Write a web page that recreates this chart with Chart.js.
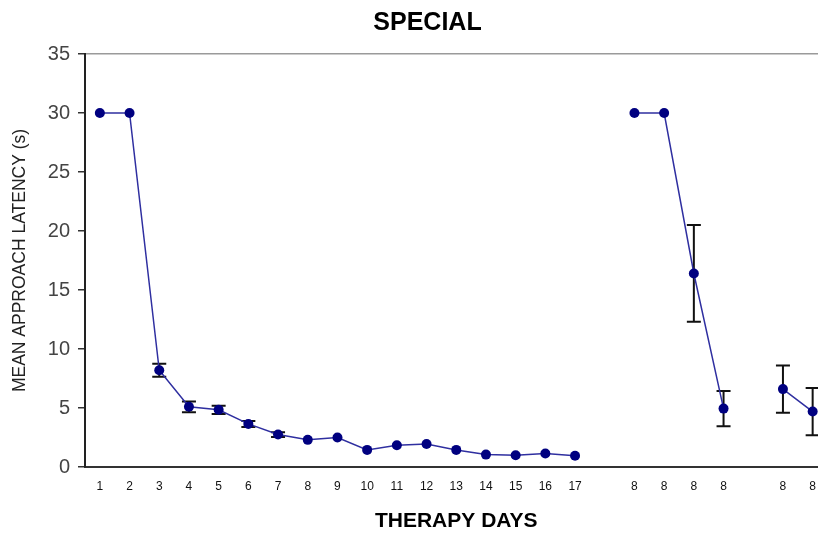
<!DOCTYPE html>
<html>
<head>
<meta charset="utf-8">
<script src="https://cdn.jsdelivr.net/npm/chart.js@4.4.1/dist/chart.umd.min.js"></script>
<style>
  html, body { margin: 0; padding: 0; background: #fff; overflow: hidden; }
  #wrap { width: 818px; height: 535px; overflow: hidden; }
</style>
</head>
<body>
<div id="wrap"><canvas id="c" width="855" height="535"></canvas></div>
<script>
// ---- data ----
const categories = ['1','2','3','4','5','6','7','8','9','10','11','12','13','14','15','16','17','',
                    '8','8','8','8','','8','8'];
const latency = [30, 30, 8.2, 5.1, 4.85, 3.65, 2.75, 2.3, 2.5, 1.45, 1.85, 1.95, 1.45, 1.05, 1.0, 1.15, 0.95, null,
                 30, 30, 16.4, 4.95, null, 6.6, 4.7];
const errors  = [0, 0, 0.55, 0.45, 0.35, 0.25, 0.2, 0, 0, 0, 0, 0, 0, 0, 0, 0, 0, null,
                 0, 0, 4.1, 1.5, null, 2.0, 2.0];
const yTicks = [0, 5, 10, 15, 20, 25, 30, 35];

const errorBars = {
  id: 'errorBars',
  beforeDatasetsDraw(chart) {
    const ctx = chart.ctx;
    const xs = chart.scales.x, ys = chart.scales.y;
    ctx.save();
    ctx.strokeStyle = '#111';
    ctx.lineWidth = 2;
    latency.forEach((v, i) => {
      const e = errors[i];
      if (v === null || !e) return;
      const x = xs.getPixelForValue(i);
      const yt = ys.getPixelForValue(v + e);
      const yb = ys.getPixelForValue(v - e);
      ctx.beginPath();
      ctx.moveTo(x, yt); ctx.lineTo(x, yb);
      ctx.moveTo(x - 7, yt); ctx.lineTo(x + 7, yt);
      ctx.moveTo(x - 7, yb); ctx.lineTo(x + 7, yb);
      ctx.stroke();
    });
    ctx.restore();
  }
};

new Chart(document.getElementById('c'), {
  type: 'line',
  data: {
    labels: categories,
    datasets: [{
      data: latency,
      borderColor: '#2f2fa0',
      borderWidth: 1.5,
      pointBackgroundColor: '#000080',
      pointBorderColor: '#000080',
      pointBorderWidth: 0,
      pointRadius: 5,
      spanGaps: false,
      tension: 0
    }]
  },
  options: {
    responsive: false,
    animation: false,
    events: [],
    layout: { padding: 0 },
    plugins: {
      legend: { display: false },
      tooltip: { enabled: false },
      title: {
        display: true,
        text: 'SPECIAL',
        color: '#000',
        font: { family: 'Liberation Sans', size: 25, weight: 'bold', lineHeight: 1.2 },
        padding: { top: 8, bottom: 16 }
      }
    },
    scales: {
      x: {
        type: 'category',
        offset: true,
        grid: { display: true, color: 'transparent', drawTicks: false },
        border: { display: true, color: '#333', width: 2 },
        ticks: {
          color: '#111',
          font: { family: 'Liberation Sans', size: 12 },
          padding: 12,
          maxRotation: 0,
          autoSkip: false
        },
        title: {
          display: true,
          text: 'THERAPY DAYS',
          color: '#000',
          font: { family: 'Liberation Sans', size: 21, weight: 'bold', lineHeight: 1.2 },
          padding: { top: 0, bottom: 1 }
        },
        afterFit(scale) { scale.height = 68; }
      },
      y: {
        min: 0,
        max: 35,
        afterBuildTicks(scale) { scale.ticks = yTicks.map(v => ({ value: v })); },
        grid: {
          color: ctx => (ctx.tick && ctx.tick.value === 35) ? '#9a9a9a' : 'transparent',
          tickColor: '#333',
          tickLength: 7,
          lineWidth: 1.5
        },
        border: { display: true, color: '#222', width: 2 },
        ticks: {
          color: '#444',
          font: { family: 'Liberation Sans', size: 20 },
          padding: 8
        },
        title: {
          display: true,
          text: 'MEAN APPROACH LATENCY (s)',
          color: '#222',
          font: { family: 'Liberation Sans', size: 17.5, lineHeight: 1.2 },
          padding: { top: 10, bottom: 0 }
        },
        afterFit(scale) { scale.width = 85; }
      },
      yRight: {
        position: 'right',
        min: 0,
        max: 35,
        grid: { display: false, drawTicks: false },
        border: { display: false },
        ticks: { display: false },
        afterFit(scale) { scale.width = 27.5; }
      }
    }
  },
  plugins: [errorBars]
});
</script>
</body>
</html>
